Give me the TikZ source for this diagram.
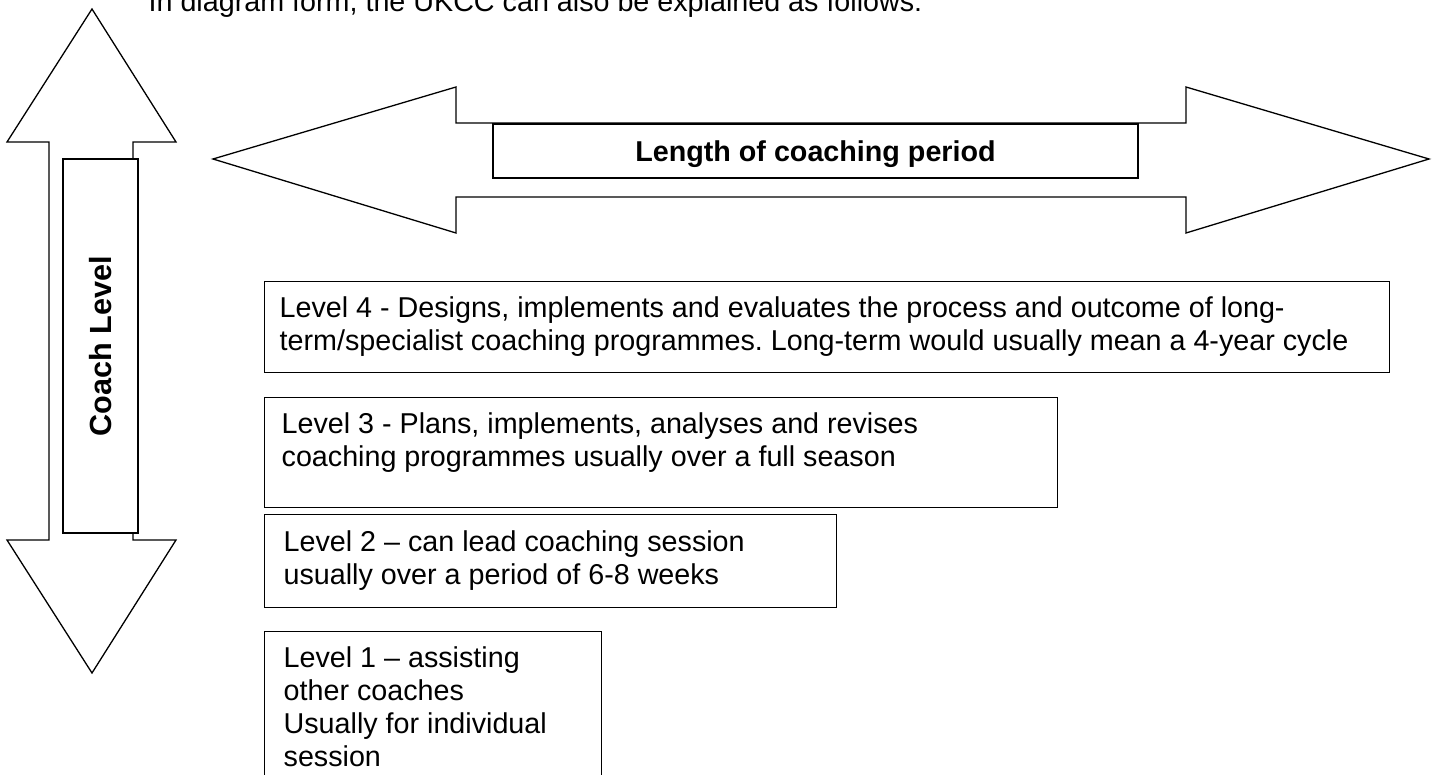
\documentclass[tikz,border=0pt]{standalone}
\usepackage{fontspec}
\setmainfont{Liberation Sans}
\usetikzlibrary{positioning}
\frenchspacing

\begin{document}
\begin{tikzpicture}[x=1pt, y=-1pt, line width=1.3pt,
    levelbox/.style={draw, fill=white, anchor=north west, inner sep=0pt},
    leveltext/.style={anchor=north west, align=left, inner sep=0pt, font=\fontsize{28.7}{33}\selectfont},
    titlebox/.style={draw, fill=white, inner sep=0pt, text depth=0pt, font=\fontsize{28.7}{33}\selectfont\bfseries}]

    \useasboundingbox (0,0) rectangle (1438,775);

    % Draw the intro line, cut off by the top edge
    \node[anchor=base west, inner sep=0pt, font=\fontsize{28.7}{33}\selectfont] (intro) at (148,12) {In diagram form, the UKCC can also be explained as follows:};

    % Draw the coach level arrow
    \draw[fill=white] (92,9) -- (176,142) -- (133,142) -- (133,540) -- (176,540) -- (92,673)
        -- (7,540) -- (49,540) -- (49,142) -- (7,142) -- cycle;
    \node[titlebox, rotate=90, minimum width=374pt, minimum height=75pt, font=\fontsize{30.6}{35}\selectfont\bfseries] (coach) at (100.5,346) {Coach Level};

    % Draw the coaching period arrow
    \draw[fill=white] (213,159) -- (456,87) -- (456,123) -- (1186,123) -- (1186,87) -- (1429,159)
        -- (1186,233) -- (1186,197) -- (456,197) -- (456,233) -- cycle;
    \node[titlebox, minimum width=645pt, minimum height=54pt] (period) at (815.5,151) {Length of coaching period};

    % Draw the level boxes
    \node[levelbox, minimum width=1125pt, minimum height=91pt] (lvfour) at (264,281) {};
    \node[levelbox, minimum width=793pt, minimum height=110pt] (lvthree) at (264,397) {};
    \node[levelbox, minimum width=572pt, minimum height=93pt] (lvtwo) at (264,514) {};
    \node[levelbox, minimum width=337pt, minimum height=180pt] (lvone) at (264,631) {};

    % Label the levels
    \node[leveltext, below right=15.5pt and 15pt of lvfour.north west] (lvfourtext) {Level 4 - Designs, implements and evaluates the process and outcome of long-\\term/specialist coaching programmes. Long-term would usually mean a 4-year cycle};
    \node[leveltext, below right=15.5pt and 17pt of lvthree.north west] (lvthreetext) {Level 3 - Plans, implements, analyses and revises\\coaching programmes usually over a full season};
    \node[leveltext, below right=16.5pt and 19pt of lvtwo.north west] (lvtwotext) {Level 2 – can lead coaching session\\usually over a period of 6-8 weeks};
    \node[leveltext, below right=15.5pt and 19pt of lvone.north west] (lvonetext) {Level 1 – assisting\\other coaches\\Usually for individual\\session};

\end{tikzpicture}
\end{document}
